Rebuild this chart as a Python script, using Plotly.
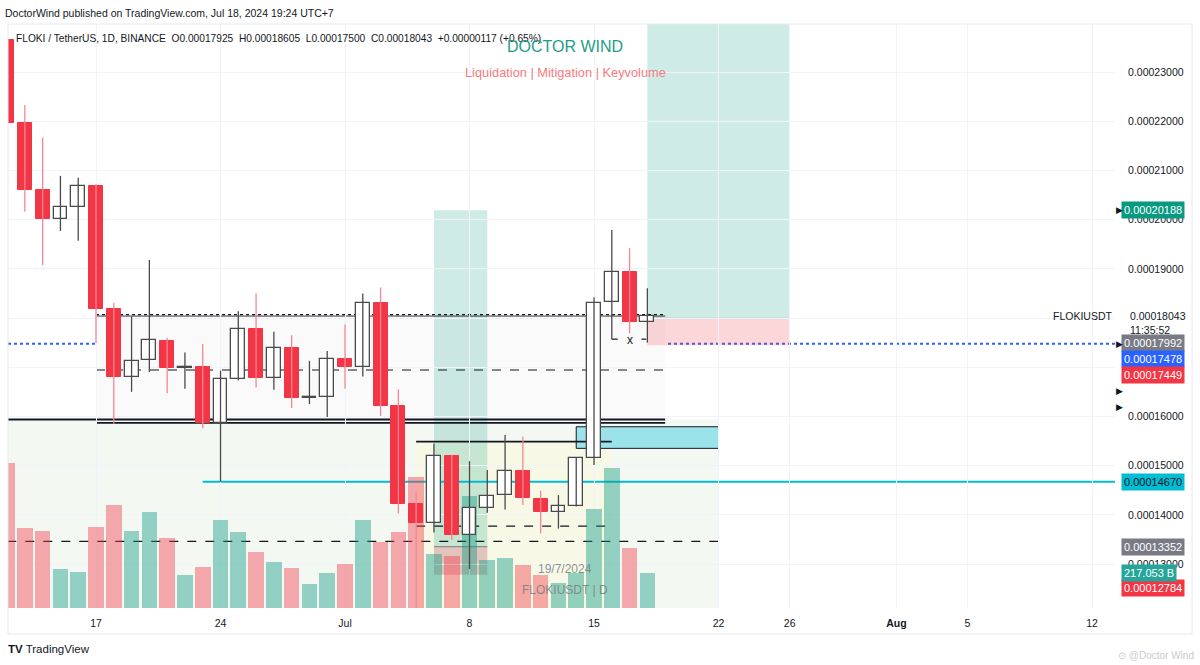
import pandas as pd
import plotly.graph_objects as go

# ---------------- DATA ----------------
dates = pd.date_range("2024-06-12", "2024-07-18", freq="D")
opens = [0.0002365, 0.0002197, 0.0002060, 0.0002001, 0.0002025, 0.0002068, 0.0001818,
         0.0001681, 0.0001714, 0.0001754, 0.0001698, 0.0001700, 0.0001587, 0.0001677,
         0.0001778, 0.0001679, 0.0001740, 0.0001638, 0.0001639, 0.0001716, 0.0001700,
         0.0001831, 0.0001622, 0.0001423, 0.0001384, 0.0001520, 0.0001358, 0.0001414,
         0.0001440, 0.0001490, 0.0001433, 0.0001405, 0.0001418, 0.0001515, 0.0001832,
         0.0001894, 0.00017925]
highs = [0.0002372, 0.0002233, 0.0002167, 0.0002089, 0.0002085, 0.0002072, 0.0001831,
         0.0001803, 0.0001918, 0.0001760, 0.0001730, 0.0001747, 0.0001693, 0.0001814,
         0.0001850, 0.0001772, 0.0001765, 0.0001713, 0.0001733, 0.0001787, 0.0001850,
         0.0001862, 0.0001655, 0.0001447, 0.0001545, 0.0001522, 0.0001509, 0.0001491,
         0.0001562, 0.0001559, 0.0001449, 0.0001440, 0.0001516, 0.0001842, 0.0001979,
         0.0001942, 0.00018605]
lows = [0.0002190, 0.0002016, 0.0001908, 0.0001977, 0.0001957, 0.0001749, 0.0001585,
        0.0001650, 0.0001690, 0.0001647, 0.0001656, 0.0001576, 0.0001467, 0.0001673,
        0.0001659, 0.0001654, 0.0001617, 0.0001625, 0.0001599, 0.0001656, 0.0001681,
        0.0001601, 0.0001403, 0.0001170, 0.0001364, 0.0001349, 0.0001290, 0.0001404,
        0.0001411, 0.0001420, 0.0001362, 0.0001372, 0.0001417, 0.0001501, 0.0001757,
        0.0001769, 0.00017500]
closes = [0.0002197, 0.0002060, 0.0002001, 0.0002025, 0.0002068, 0.0001818, 0.0001680,
          0.0001713, 0.0001755, 0.0001698, 0.0001700, 0.0001586, 0.0001677, 0.0001778,
          0.0001679, 0.0001740, 0.0001638, 0.0001640, 0.0001716, 0.0001701, 0.0001831,
          0.0001622, 0.0001423, 0.0001384, 0.0001520, 0.0001358, 0.0001414, 0.0001438,
          0.0001490, 0.0001434, 0.0001405, 0.0001418, 0.0001515, 0.0001831, 0.0001894,
          0.00017926, 0.00018043]
volumes_b = [893, 492, 474, 242, 220, 500, 632, 474, 592, 431, 205, 252, 541, 466, 344,
             281, 245, 146, 213, 272, 541, 408, 469, 804, 330, 322, 689, 295, 309, 264,
             203, 152, 217, 609, 859, 367, 217.053]

x_tick_dates = ["2024-06-17", "2024-06-24", "2024-07-01", "2024-07-08", "2024-07-15",
                "2024-07-22", "2024-07-26", "2024-08-01", "2024-08-05", "2024-08-12"]
x_tick_text = ["17", "24", "Jul", "8", "15", "22", "26", "<b>Aug</b>", "5", "12"]
price_ticks = [0.00013, 0.00014, 0.00015, 0.00016, 0.00017, 0.00018, 0.00019,
               0.00020, 0.00021, 0.00022, 0.00023]
price_tick_text = ["0.00013000", "0.00014000", "0.00015000", "0.00016000", "", "",
                   "0.00019000", "0.00020000", "0.00021000", "0.00022000", "0.00023000"]

# levels drawn on the chart
lvl_top = 0.0001804
lvl_mid_dash = 0.00016943
lvl_double_a = 0.00015937
lvl_double_b = 0.00015868
lvl_low_dash = 0.00013461
lvl_box_dash = 0.00013772
lvl_box_line = 0.00015486
cyan_box = (0.00015351, 0.0001579)
cyan_level = 0.0001467
blue_level = 0.00017478
pos1 = dict(entry=0.00013352, target=0.00020188, stop=0.00012784)
pos2 = dict(entry=0.00017992, target=0.00026, stop=0.00017449)

# ---------------- STYLE ----------------
DAY = 86400000
UP_LINE = "#4A4A4A"
DOWN = "#F23645"
DOWN_WICK = "#F7858F"
FONT = "Liberation Sans, Arial, sans-serif"
Y2_RANGE = [0.00012106, 0.00023976]
VOL_RANGE = [0, 3592]

fig = go.Figure()

# volume (base y axis)
vol_colors = ["rgba(8,153,129,0.42)" if c >= o else "rgba(242,54,69,0.42)"
              for o, c in zip(opens, closes)]
fig.add_trace(go.Bar(x=dates, y=volumes_b, yaxis="y", marker=dict(color=vol_colors, line=dict(width=0)),
                     width=0.88 * DAY, hoverinfo="skip"))

# wicks
up_idx = [i for i in range(len(dates)) if closes[i] >= opens[i]]
dn_idx = [i for i in range(len(dates)) if closes[i] < opens[i]]

def wick_xy(idx):
    xs, ys = [], []
    for i in idx:
        xs += [dates[i], dates[i], None]
        ys += [lows[i], highs[i], None]
    return xs, ys

wx, wy = wick_xy(up_idx)
fig.add_trace(go.Scatter(x=wx, y=wy, mode="lines", yaxis="y2", line=dict(color=UP_LINE, width=1.3),
                         hoverinfo="skip"))
wx, wy = wick_xy(dn_idx)
fig.add_trace(go.Scatter(x=wx, y=wy, mode="lines", yaxis="y2", line=dict(color=DOWN_WICK, width=1.3),
                         hoverinfo="skip"))

# bodies
def body(idx):
    xs = [dates[i] for i in idx]
    base = [min(opens[i], closes[i]) for i in idx]
    h = [max(abs(closes[i] - opens[i]), 2e-7) for i in idx]
    return xs, base, h

bx, bb, bh = body(up_idx)
fig.add_trace(go.Bar(x=bx, y=bh, base=bb, yaxis="y2", width=0.78 * DAY,
                     marker=dict(color="white", line=dict(color=UP_LINE, width=1.3)), hoverinfo="skip"))
bx, bb, bh = body(dn_idx)
fig.add_trace(go.Bar(x=bx, y=bh, base=bb, yaxis="y2", width=0.78 * DAY,
                     marker=dict(color=DOWN, line=dict(color=DOWN, width=1)), hoverinfo="skip"))

# ---------------- SHAPES ----------------
shapes = []

def rect(x0, x1, y0, y1, fill, line=None, xref="x", yref="y2", layer="below"):
    shapes.append(dict(type="rect", xref=xref, yref=yref, x0=x0, x1=x1, y0=y0, y1=y1,
                       fillcolor=fill, line=line or dict(width=0), layer=layer))

def hline(y, x0, x1, color="#131722", width=1.3, dash="solid", xref="x", layer="below"):
    shapes.append(dict(type="line", xref=xref, yref="y2", x0=x0, x1=x1, y0=y, y1=y,
                       line=dict(color=color, width=width, dash=dash), layer=layer))

# zones
rect("2024-06-11", "2024-07-22", Y2_RANGE[0], lvl_double_a, "#F4F8F3")
rect("2024-06-17", "2024-07-19", lvl_double_a, lvl_top, "#FAFAFA")
rect("2024-07-05", "2024-07-16", Y2_RANGE[0], lvl_box_line, "#F7F9E6")
# long positions
rect("2024-07-06", "2024-07-09", pos1["entry"], pos1["target"], "rgba(8,153,129,0.2)")
rect("2024-07-06", "2024-07-09", pos1["stop"], pos1["entry"], "rgba(242,54,69,0.2)")
rect("2024-07-06", "2024-07-09", pos1["stop"], pos1["entry"], "rgba(120,123,134,0.15)")
hline(pos1["entry"], "2024-07-06", "2024-07-09", color="#787B86", width=1)
rect("2024-07-18", "2024-07-26", pos2["entry"], Y2_RANGE[1], "rgba(8,153,129,0.2)")
rect("2024-07-18", "2024-07-26", pos2["stop"], pos2["entry"], "rgba(242,54,69,0.2)")
hline(pos2["entry"], "2024-07-18", "2024-07-26", color="#787B86", width=1)
# cyan box
rect("2024-07-14", "2024-07-22", cyan_box[0], cyan_box[1], "#9BE3EA",
     line=dict(color="#131722", width=1))

# lines
hline(lvl_top, "2024-06-17", "2024-07-19", color="#333333", width=1)
hline(lvl_top + 0.0000003, "2024-06-17", "2024-07-19", color="#131722", width=1.2, dash="dot")
hline(lvl_mid_dash, "2024-06-17", "2024-07-19", dash="dash", width=1.2)
hline(lvl_double_a, "2024-06-11", "2024-07-19", width=1.8)
hline(lvl_double_b, "2024-06-17", "2024-07-19", width=1.8)
hline(lvl_low_dash, "2024-06-11", "2024-07-22", dash="dash", width=1.2)
hline(lvl_box_dash, "2024-07-05", "2024-07-16", dash="dash", width=1.2)
hline(lvl_box_line, "2024-07-05", "2024-07-16", width=1.8)
hline(cyan_level, "2024-06-23", "2024-08-20", color="#00BCD4", width=2)
hline(blue_level, 0, 1, color="#2962FF", width=2, dash="dot", xref="paper")
# small swing marks
hline(0.0001757, "2024-07-16", "2024-07-16 08:00", width=1.2)
hline(0.0001757, "2024-07-17 16:00", "2024-07-17 22:30", width=1.2)

# frame
shapes.append(dict(type="rect", xref="paper", yref="paper", x0=0, x1=1.0696, y0=-0.0445, y1=1.0,
                   line=dict(color="#E6E8EE", width=1), fillcolor="rgba(0,0,0,0)", layer="above"))

# ---------------- ANNOTATIONS ----------------
ann = []

def ptext(text, x, y, size=10, color="#131722", xanchor="left", yanchor="middle", **kw):
    ann.append(dict(text=text, x=x, y=y, xref="paper", yref="paper", showarrow=False,
                    xanchor=xanchor, yanchor=yanchor, font=dict(size=size, color=color, family=FONT), **kw))

ptext("DoctorWind published on TradingView.com, Jul 18, 2024 19:24 UTC+7", -0.0045, 1.0188, size=10.5)
ptext("FLOKI / TetherUS, 1D, BINANCE &nbsp;O0.00017925 &nbsp;H0.00018605 &nbsp;L0.00017500 "
      "&nbsp;C0.00018043 &nbsp;+0.00000117 (+0.65%)", 0.0054, 0.976, size=10.2)
ptext("DOCTOR WIND", 0.5032, 0.9623, size=16, color="#1E9E87", xanchor="center")
ptext("Liquidation | Mitigation | Keyvolume", 0.5032, 0.9178, size=12.8, color="#F77C80", xanchor="center")
ptext("19/7/2024", 0.5032, 0.0668, size=12, color="rgba(120,123,134,0.85)", xanchor="center")
ptext("FLOKIUSDT | D", 0.5032, 0.0308, size=12, color="rgba(120,123,134,0.85)", xanchor="center")
ptext("<b>TV</b> TradingView", -0.0018, -0.0702, size=11.5)
ptext("⊙ @Doctor Wind", 1.0735, -0.0805, size=10, color="#C9CBD1", xanchor="right")

# "x" swing mark
ann.append(dict(text="x", x="2024-07-17", y=0.0001756, xref="x", yref="y2", showarrow=False,
                font=dict(size=12, color="#131722", family=FONT)))

# price labels
TAG_X = (1121 - 8) / 1107
tags = [("0.00020188", 0.00020188, 0, "#089981", "white"),
        ("0.00017992", 0.00017992, -25, "#787B86", "white"),
        ("0.00017478", 0.00017478, -15.5, "#2962FF", "white"),
        ("0.00017449", 0.00017449, -30, "#F23645", "white"),
        ("0.00014670", 0.00014670, 0, "#00BCD4", "#131722"),
        ("0.00013352", 0.00013352, 0, "#787B86", "white"),
        ("0.00012784", 0.00012784, -13.5, "#F23645", "white")]
for txt, yv, ys, bg, fc in tags:
    ann.append(dict(text=txt, x=TAG_X, y=yv, xref="paper", yref="y2", yshift=ys, showarrow=False,
                    xanchor="left", yanchor="middle", bgcolor=bg, borderpad=2,
                    font=dict(size=11, color=fc, family=FONT)))
ann.append(dict(text="217.053 B", x=TAG_X, y=volumes_b[-1], xref="paper", yref="y", showarrow=False,
                xanchor="left", yanchor="middle", bgcolor="#26A69A", borderpad=2,
                font=dict(size=11, color="white", family=FONT)))
# last price text
ann.append(dict(text="0.00018043", x=(1128 - 8) / 1107, y=closes[-1], xref="paper", yref="y2",
                showarrow=False, xanchor="left", yanchor="middle", font=dict(size=10.5, color="#131722", family=FONT)))
ann.append(dict(text="11:35:52", x=(1128 - 8) / 1107, y=closes[-1], yshift=-14, xref="paper", yref="y2",
                showarrow=False, xanchor="left", yanchor="middle", font=dict(size=10.5, color="#131722", family=FONT)))
ann.append(dict(text="FLOKIUSDT", x=1.0, y=closes[-1], xref="paper", yref="y2",
                showarrow=False, xanchor="right", yanchor="middle", font=dict(size=10.5, color="#131722", family=FONT)))
# small markers on the price scale
for yv in [0.00020188, blue_level, 0.00016516, 0.00016191]:
    ann.append(dict(text="▶", x=(1114 - 8) / 1107, y=yv, xref="paper", yref="y2", showarrow=False,
                    xanchor="left", yanchor="middle", font=dict(size=9, color="#131722", family="DejaVu Sans")))

fig.update_layout(
    width=1200, height=665,
    margin=dict(l=8, r=85, t=24, b=57),
    paper_bgcolor="white", plot_bgcolor="white",
    showlegend=False, barmode="overlay", bargap=0,
    font=dict(family=FONT, size=10, color="#131722"),
    xaxis=dict(type="date", range=["2024-06-12 01:15", "2024-08-13 07:00"],
               tickvals=x_tick_dates, ticktext=x_tick_text, showgrid=True, gridcolor="#F0F3FA",
               ticks="outside", ticklen=5, tickcolor="rgba(0,0,0,0)", zeroline=False, showline=False,
               tickfont=dict(size=10.5, color="#131722", family=FONT), rangeslider=dict(visible=False)),
    yaxis=dict(range=VOL_RANGE, visible=False, showgrid=False, zeroline=False),
    yaxis2=dict(overlaying="y", side="right", range=Y2_RANGE, tickvals=price_ticks,
                ticktext=price_tick_text, showgrid=True, gridcolor="#F0F3FA", zeroline=False,
                ticks="outside", ticklen=10, tickcolor="rgba(0,0,0,0)", showline=False,
                tickfont=dict(size=10.5, color="#131722", family=FONT)),
    shapes=shapes, annotations=ann,
)

fig.write_html("out.html")
